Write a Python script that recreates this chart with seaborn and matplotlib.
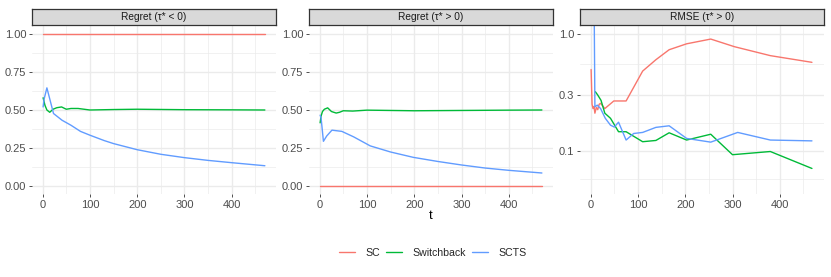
import numpy as np
import pandas as pd
import seaborn as sns
import matplotlib.pyplot as plt
from matplotlib.lines import Line2D

methods = ['SC', 'Switchback', 'SCTS']
palette = {'SC': '#F8766D', 'Switchback': '#00BA38', 'SCTS': '#619CFF'}
panel_titles = ['Regret (τ* < 0)', 'Regret (τ* > 0)', 'RMSE (τ* > 0)']

# --- Regret (tau* < 0)
neg_sc_t = [1, 470]
neg_sc = [1.0, 1.0]
neg_sw_t = [1, 5, 9, 15, 22, 30, 40, 50, 60, 75, 100, 150, 200, 300, 400, 470]
neg_sw = [0.58, 0.53, 0.50, 0.485, 0.505, 0.515, 0.52, 0.505, 0.51, 0.51, 0.50, 0.503, 0.505, 0.502, 0.501, 0.50]
neg_scts_t = [1, 3, 9, 23, 41, 60, 80, 100, 130, 150, 200, 250, 300, 350, 400, 470]
neg_scts = [0.52, 0.57, 0.645, 0.477, 0.433, 0.40, 0.36, 0.335, 0.30, 0.28, 0.24, 0.21, 0.188, 0.17, 0.155, 0.135]

# --- Regret (tau* > 0)
pos_sc_t = [1, 470]
pos_sc = [0.0, 0.0]
pos_sw_t = [1, 3, 6, 10, 17, 25, 35, 42, 50, 70, 100, 200, 300, 400, 470]
pos_sw = [0.416, 0.46, 0.49, 0.505, 0.514, 0.49, 0.48, 0.485, 0.495, 0.493, 0.499, 0.495, 0.497, 0.499, 0.50]
pos_scts_t = [1, 3, 8, 15, 26, 47, 72, 107, 150, 198, 250, 300, 350, 400, 470]
pos_scts = [0.466, 0.45, 0.295, 0.33, 0.368, 0.36, 0.324, 0.265, 0.225, 0.19, 0.163, 0.14, 0.12, 0.105, 0.0875]

# --- RMSE (tau* > 0), log scale
rmse_sc_t = [1, 3, 5, 7, 9, 12, 15, 18, 21, 30, 49, 75, 110, 138, 166, 203, 254, 304, 380, 468]
rmse_sc = [0.495, 0.25, 0.23, 0.24, 0.21, 0.235, 0.225, 0.25, 0.255, 0.23, 0.267, 0.267, 0.48, 0.60, 0.73, 0.82, 0.90, 0.775, 0.65, 0.57]
rmse_sw_t = [10, 15, 22, 30, 42, 59, 75, 110, 138, 166, 203, 254, 300, 380, 468]
rmse_sw = [0.32, 0.30, 0.27, 0.21, 0.19, 0.146, 0.146, 0.12, 0.123, 0.143, 0.124, 0.139, 0.093, 0.099, 0.071]
rmse_scts_t = [7, 9, 14, 21, 31, 42, 50, 59, 75, 91, 110, 138, 166, 203, 254, 311, 380, 468]
rmse_scts = [3.0, 0.238, 0.246, 0.23, 0.19, 0.166, 0.16, 0.176, 0.124, 0.141, 0.144, 0.159, 0.164, 0.128, 0.119, 0.144, 0.124, 0.122]


def long_df(ts, vals):
    """Stack the three method series into one long dataframe."""
    frames = []
    for m, t, v in zip(methods, ts, vals):
        frames.append(pd.DataFrame({'t': t, 'value': v, 'method': m}))
    return pd.concat(frames, ignore_index=True)


panels = [
    long_df([neg_sc_t, neg_sw_t, neg_scts_t], [neg_sc, neg_sw, neg_scts]),
    long_df([pos_sc_t, pos_sw_t, pos_scts_t], [pos_sc, pos_sw, pos_scts]),
    long_df([rmse_sc_t, rmse_sw_t, rmse_scts_t], [rmse_sc, rmse_sw, rmse_scts]),
]

sns.set_theme(style='white')
plt.rcParams['font.family'] = ['Liberation Sans', 'DejaVu Sans']

W, H = 831, 277
fig = plt.figure(figsize=(W / 100, H / 100), dpi=100)

lefts = [32, 309, 580]
pw = 244
ptop, pbot = 26, 194
grid_col = '#EBEBEB'

for i, (df, left) in enumerate(zip(panels, lefts)):
    ax = fig.add_axes([left / W, 1 - pbot / H, pw / W, (pbot - ptop) / H])
    ax.set_facecolor('white')
    sns.lineplot(data=df, x='t', y='value', hue='method', hue_order=methods,
                 palette=palette, linewidth=1.0, legend=False, ax=ax, sort=False,
                 estimator=None, zorder=3)
    ax.set_xlim(-22.5, 493.5)
    ax.set_xticks([0, 100, 200, 300, 400])
    ax.set_xticks([50, 150, 250, 350, 450], minor=True)
    if i < 2:
        ax.set_ylim(-0.05, 1.05)
        ax.set_yticks([0, 0.25, 0.5, 0.75, 1.0])
        ax.set_yticklabels(['0.00', '0.25', '0.50', '0.75', '1.00'])
        ax.set_yticks([0.125, 0.375, 0.625, 0.875], minor=True)
    else:
        ax.set_yscale('log')
        ax.set_ylim(0.043, 1.163)
        ax.set_yticks([0.1, 0.3, 1.0])
        ax.set_yticklabels(['0.1', '0.3', '1.0'])
        ax.set_yticks([0.1 / np.sqrt(3), np.sqrt(0.03), np.sqrt(0.3)], minor=True)
        ax.yaxis.set_minor_formatter(plt.NullFormatter())
    ax.grid(True, which='major', color=grid_col, linewidth=1.0, zorder=0)
    ax.grid(True, which='minor', color=grid_col, linewidth=0.5, zorder=0)
    ax.set_axisbelow(True)
    for s in ax.spines.values():
        s.set_visible(False)
    ax.tick_params(which='major', direction='out', length=2.5, width=0.6,
                   color='#333333', labelsize=8, labelcolor='#4D4D4D', pad=1.5,
                   bottom=True, left=True)
    ax.tick_params(which='minor', length=0)
    ax.set_ylabel('')
    ax.set_xlabel('t' if i == 1 else '', fontsize=9.5, labelpad=0, color='black')

    # facet strip
    sax = fig.add_axes([left / W, 1 - 25 / H, pw / W, 16 / H])
    sax.set_facecolor('#D9D9D9')
    sax.set_xticks([])
    sax.set_yticks([])
    for s in sax.spines.values():
        s.set_visible(True)
        s.set_color('#333333')
        s.set_linewidth(0.9)
    sax.text(0.5, 0.47, panel_titles[i], ha='center', va='center',
             fontsize=7.3, color='#1A1A1A', transform=sax.transAxes)

handles = [Line2D([], [], color=palette[m], linewidth=1.0) for m in methods]
fig.legend(handles, methods, loc='center', bbox_to_anchor=(433 / W, 1 - 253 / H),
           ncol=3, frameon=False, fontsize=7.6, handlelength=1.5, handletextpad=1.0,
           columnspacing=0.6)

fig.savefig('out.png', dpi=100)
